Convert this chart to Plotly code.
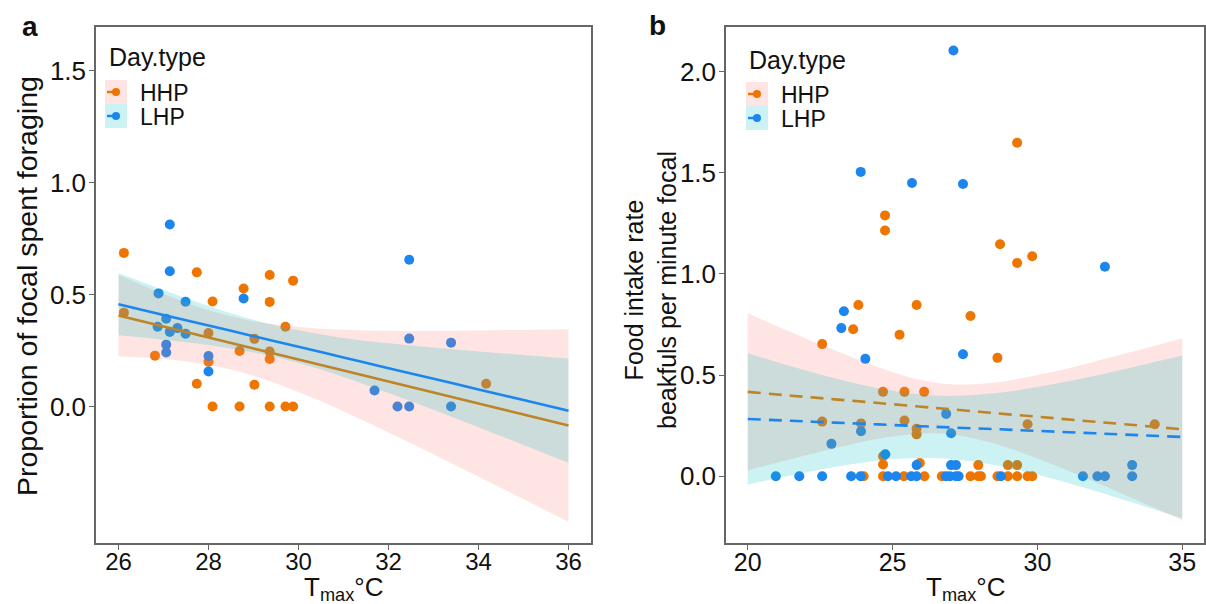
import plotly.graph_objects as go

# ---------------- data: panel a ----------------
a_hhp_x = [26.12, 26.12, 27.74, 28.09, 28.78, 29.36, 29.88, 29.36, 28.00, 26.81, 28.00, 27.74,
           29.02, 29.71, 29.02, 28.69, 29.36, 29.36, 34.17, 28.09, 28.69, 29.36, 29.71, 29.88]
a_hhp_y = [0.686, 0.419, 0.599, 0.469, 0.527, 0.587, 0.562, 0.467, 0.328, 0.227, 0.200, 0.101,
           0.097, 0.356, 0.302, 0.248, 0.245, 0.212, 0.101, 0, 0, 0, 0, 0]
a_lhp_x = [27.14, 27.14, 26.89, 27.49, 28.78, 27.06, 26.87, 27.14, 27.31, 27.49, 27.06, 27.06,
           28.00, 28.00, 32.46, 32.46, 33.39, 31.69, 32.20, 32.46, 33.39]
a_lhp_y = [0.813, 0.604, 0.505, 0.468, 0.482, 0.392, 0.356, 0.333, 0.350, 0.325, 0.276, 0.241,
           0.225, 0.156, 0.655, 0.303, 0.285, 0.071, 0, 0, 0]

a_fit_x = [26, 27, 28, 29, 30, 31, 32, 33, 34, 35, 36]
a_hhp_fit = [0.406, 0.357, 0.308, 0.259, 0.210, 0.161, 0.111, 0.062, 0.013, -0.036, -0.085]
a_hhp_up = [0.588, 0.502, 0.430, 0.381, 0.355, 0.343, 0.338, 0.337, 0.339, 0.342, 0.345]
a_hhp_lo = [0.224, 0.212, 0.186, 0.137, 0.065, -0.021, -0.116, -0.213, -0.313, -0.414, -0.515]
a_lhp_fit = [0.457, 0.409, 0.362, 0.314, 0.267, 0.219, 0.171, 0.124, 0.076, 0.029, -0.019]
a_lhp_up = [0.596, 0.520, 0.449, 0.387, 0.340, 0.306, 0.282, 0.263, 0.245, 0.230, 0.214]
a_lhp_lo = [0.318, 0.298, 0.275, 0.241, 0.194, 0.132, 0.060, -0.015, -0.093, -0.172, -0.252]

# ---------------- data: panel b ----------------
b_hhp_x = [24.74, 24.74, 23.82, 25.83, 23.64, 25.24, 22.57, 24.67, 25.41, 26.09, 22.57, 23.91,
           25.41, 25.83, 25.83, 24.67, 24.67, 25.94, 29.30, 28.71, 29.30, 29.82, 27.69, 28.62,
           29.66, 34.05, 27.96, 28.98, 29.30,
           24.00, 24.67, 25.39, 26.10, 26.70, 27.69, 27.96, 28.05, 28.62, 28.98, 29.30, 29.66, 29.82]
b_hhp_y = [1.289, 1.214, 0.846, 0.846, 0.726, 0.699, 0.653, 0.417, 0.417, 0.417, 0.270, 0.261,
           0.275, 0.235, 0.207, 0.099, 0.058, 0.065, 1.648, 1.146, 1.054, 1.087, 0.792, 0.585,
           0.257, 0.257, 0.055, 0.055, 0.055,
           0, 0, 0, 0, 0, 0, 0, 0, 0, 0, 0, 0, 0]
b_lhp_x = [27.10, 23.90, 25.67, 23.32, 23.23, 24.06, 26.85, 23.91, 27.02, 22.89, 24.75, 25.83,
           27.02, 27.19, 27.43, 32.33, 27.43, 33.27,
           20.97, 21.78, 22.57, 23.57, 23.90, 24.84, 25.12, 25.64, 25.83, 26.84, 26.98, 27.19,
           27.28, 28.74, 31.57, 32.07, 32.33, 33.27]
b_lhp_y = [2.104, 1.504, 1.449, 0.815, 0.732, 0.580, 0.308, 0.222, 0.212, 0.160, 0.109, 0.055,
           0.055, 0.055, 1.444, 1.035, 0.603, 0.055,
           0, 0, 0, 0, 0, 0, 0, 0, 0, 0, 0, 0, 0, 0, 0, 0, 0, 0]

b_fit_x = [20, 21.5, 23, 24.5, 26, 27, 28.5, 30, 31.5, 33, 35]
b_hhp_fit = [0.417, 0.398, 0.380, 0.362, 0.343, 0.331, 0.312, 0.294, 0.275, 0.257, 0.232]
b_hhp_up = [0.805, 0.711, 0.622, 0.539, 0.475, 0.454, 0.462, 0.500, 0.549, 0.605, 0.681]
b_hhp_lo = [0.029, 0.085, 0.138, 0.185, 0.211, 0.208, 0.162, 0.088, 0.001, -0.091, -0.217]
b_lhp_fit = [0.283, 0.274, 0.265, 0.256, 0.247, 0.241, 0.233, 0.224, 0.215, 0.206, 0.194]
b_lhp_up = [0.608, 0.543, 0.484, 0.435, 0.404, 0.397, 0.410, 0.441, 0.482, 0.529, 0.596]
b_lhp_lo = [-0.042, 0.005, 0.046, 0.077, 0.090, 0.085, 0.056, 0.007, -0.052, -0.117, -0.208]

groups = ["HHP", "LHP"]
a_xticks = [26, 28, 30, 32, 34, 36]
a_yticks = [0.0, 0.5, 1.0, 1.5]
b_xticks = [20, 25, 30, 35]
b_yticks = [0.0, 0.5, 1.0, 1.5, 2.0]

# ---------------- styling ----------------
ORANGE = "#EE7600"
BLUE = "#1C86EE"
PINK_FILL = "rgba(248,118,109,0.2)"
CYAN_FILL = "rgba(0,191,196,0.2)"
FONT = "Liberation Sans, Arial, sans-serif"
W, H = 1206, 604


def px(x):
    return x / W


def py(y):
    return 1 - y / H


fig = go.Figure()


def add_panel(xa, ya, hx, hy, lx, ly, fx, hfit, hup, hlo, lfit, lup, llo, dash):
    fig.add_trace(go.Scatter(x=hx, y=hy, mode="markers", xaxis=xa, yaxis=ya, name=groups[0],
                             marker=dict(color=ORANGE, size=10), showlegend=False))
    fig.add_trace(go.Scatter(x=lx, y=ly, mode="markers", xaxis=xa, yaxis=ya, name=groups[1],
                             marker=dict(color=BLUE, size=10), showlegend=False))
    for fit, up, lo, fill, col in [(hfit, hup, hlo, PINK_FILL, ORANGE),
                                   (lfit, lup, llo, CYAN_FILL, BLUE)]:
        fig.add_trace(go.Scatter(x=fx, y=lo, mode="lines", xaxis=xa, yaxis=ya,
                                 line=dict(width=0, shape="spline"), showlegend=False,
                                 hoverinfo="skip"))
        fig.add_trace(go.Scatter(x=fx, y=up, mode="lines", xaxis=xa, yaxis=ya,
                                 line=dict(width=0, shape="spline"), fill="tonexty",
                                 fillcolor=fill, showlegend=False, hoverinfo="skip"))
        fig.add_trace(go.Scatter(x=fx, y=fit, mode="lines", xaxis=xa, yaxis=ya,
                                 line=dict(color=col, width=2.6, dash=dash, shape="spline"),
                                 showlegend=False))


add_panel("x", "y", a_hhp_x, a_hhp_y, a_lhp_x, a_lhp_y, a_fit_x,
          a_hhp_fit, a_hhp_up, a_hhp_lo, a_lhp_fit, a_lhp_up, a_lhp_lo, "solid")
add_panel("x2", "y2", b_hhp_x, b_hhp_y, b_lhp_x, b_lhp_y, b_fit_x,
          b_hhp_fit, b_hhp_up, b_hhp_lo, b_lhp_fit, b_lhp_up, b_lhp_lo, "13px,8px")

axis_common = dict(showgrid=False, zeroline=False, showline=True, mirror=True,
                   linecolor="#666666", linewidth=1.5, ticks="outside", ticklen=5,
                   tickcolor="#666666")


def xfont(size):
    return dict(family=FONT, size=size, color="#111")


fig.update_layout(
    width=W, height=H, margin=dict(l=0, r=0, t=0, b=0),
    paper_bgcolor="white", plot_bgcolor="white", showlegend=False,
    xaxis=dict(domain=[px(96), px(591)], range=[25.5, 36.5], tickvals=a_xticks,
               ticktext=[str(v) for v in a_xticks], anchor="y", tickfont=xfont(24),
               ticklabelstandoff=-9, **axis_common),
    yaxis=dict(domain=[py(543), py(27)], range=[-0.61, 1.695], tickvals=a_yticks,
               ticktext=[f"{v:.1f}" for v in a_yticks], anchor="x", tickfont=xfont(26),
               ticklabelstandoff=-2, **axis_common),
    xaxis2=dict(domain=[px(726), px(1204)], range=[19.25, 35.75], tickvals=b_xticks,
                ticktext=[str(v) for v in b_xticks], anchor="y2", tickfont=xfont(25),
                ticklabelstandoff=-9, **axis_common),
    yaxis2=dict(domain=[py(543), py(27)], range=[-0.33, 2.22], tickvals=b_yticks,
                ticktext=[f"{v:.1f}" for v in b_yticks], anchor="x2", tickfont=xfont(26),
                ticklabelstandoff=-2, **axis_common),
)

ann = []
shapes = []


def text(x, y, s, size, anchor="center", bold=False, angle=0):
    ann.append(dict(x=px(x), y=py(y), xref="paper", yref="paper", text=s, showarrow=False,
                    xanchor=anchor, yanchor="middle", textangle=angle,
                    font=dict(family=FONT, size=size, color="#111111")))
    if bold:
        ann[-1]["text"] = "<b>" + s + "</b>"


# panel labels
text(30, 27, "a", 28, bold=True)
text(657, 25, "b", 28, bold=True)
# axis titles
text(343, 588, "T<sub>max</sub>°C", 26)
text(965, 588, "T<sub>max</sub>°C", 26)
text(27, 286, "Proportion of focal spent foraging", 28.5, angle=-90)
text(650, 290, "Food intake rate<br>beakfuls per minute focal", 25, angle=-90)


# manual legends
def legend(x0, y0, tx, ytitle):
    text(tx, ytitle, "Day.type", 25, anchor="left")
    for i, (g, fill, col) in enumerate([(groups[0], PINK_FILL, ORANGE),
                                        (groups[1], CYAN_FILL, BLUE)]):
        top = y0 + i * 24
        shapes.append(dict(type="rect", xref="paper", yref="paper", x0=px(x0), x1=px(x0 + 22),
                           y0=py(top + 24), y1=py(top), fillcolor=fill, line=dict(width=0),
                           layer="above"))
        cy = top + 12
        shapes.append(dict(type="line", xref="paper", yref="paper", x0=px(x0 + 2),
                           x1=px(x0 + 14), y0=py(cy), y1=py(cy),
                           line=dict(color=col, width=2.5), layer="above"))
        shapes.append(dict(type="circle", xref="paper", yref="paper", x0=px(x0 + 7),
                           x1=px(x0 + 15), y0=py(cy + 4), y1=py(cy - 4), fillcolor=col,
                           line=dict(width=0), layer="above"))
        text(x0 + 33, cy + 1, g, 23, anchor="left")


legend(105, 80, 107, 57)
legend(746, 82, 747, 60)

fig.update_layout(annotations=ann, shapes=shapes)
fig.write_html("out.html", config={"displayModeBar": False},
               post_script="document.body.style.margin='0px';")
